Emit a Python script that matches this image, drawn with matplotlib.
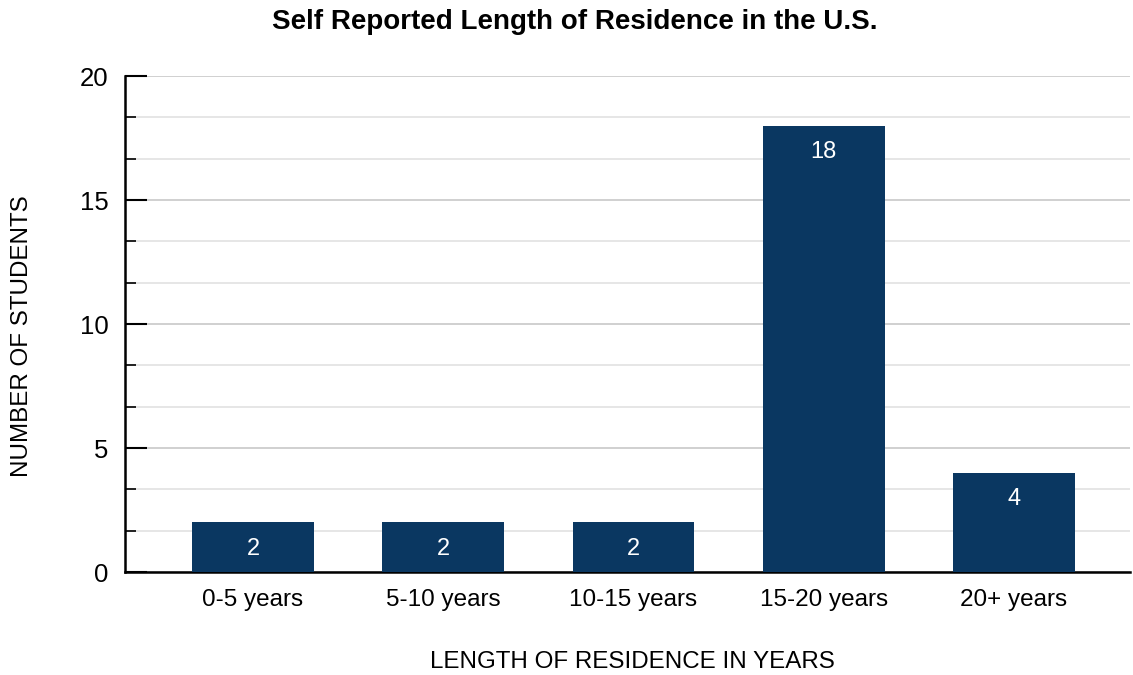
import matplotlib.pyplot as plt
from matplotlib.ticker import MultipleLocator

plt.rcParams['font.family'] = ['Liberation Sans', 'DejaVu Sans']

categories = ['0-5 years', '5-10 years', '10-15 years', '15-20 years', '20+ years']
students = [2, 2, 2, 18, 4]

BAR_COLOR = '#0a3761'

fig = plt.figure(figsize=(11.33, 6.75), dpi=100)
ax = fig.add_axes([125 / 1133, 1 - 572 / 675, (1130 - 125) / 1133, (572 - 76) / 675])

x = list(range(len(categories)))
bars = ax.bar(x, students, width=0.64, color=BAR_COLOR, zorder=3)

for b, v in zip(bars, students):
    ax.annotate(str(v), (b.get_x() + b.get_width() / 2, v), xytext=(0, -19),
                textcoords='offset points', ha='center', va='center',
                color='white', fontsize=17, zorder=4)

ax.set_xlim(-0.673, 4.61)
ax.set_ylim(0, 20)
ax.set_xticks(x)
ax.set_xticklabels(categories, fontsize=17.5)
ax.yaxis.set_major_locator(MultipleLocator(5))
ax.yaxis.set_minor_locator(MultipleLocator(5 / 3))
ax.tick_params(axis='y', which='major', direction='in', length=16, width=1.5,
               labelsize=18.5, pad=12, color='black')
ax.tick_params(axis='y', which='minor', direction='in', length=8, width=1.2, color='black')
ax.tick_params(axis='x', length=0, pad=12)

ax.grid(axis='y', which='major', color='#c8c8c8', linewidth=1.2, zorder=0)
ax.grid(axis='y', which='minor', color='#e2e2e2', linewidth=1.2, zorder=0)

for s in ['top', 'right']:
    ax.spines[s].set_visible(False)
ax.spines['left'].set_linewidth(1.8)
ax.spines['bottom'].set_linewidth(1.8)

fig.text(575 / 1133, 1 - 22 / 675, 'Self Reported Length of Residence in the U.S.',
         ha='center', va='center', fontsize=20, fontweight='bold')
fig.text(22 / 1133, 1 - 336 / 675, 'NUMBER OF STUDENTS', ha='center', va='center',
         rotation=90, fontsize=17.4)
fig.text(632 / 1133, 1 - 662 / 675, 'LENGTH OF RESIDENCE IN YEARS', ha='center',
         va='center', fontsize=17.4)

fig.savefig('out.png', dpi=100)
